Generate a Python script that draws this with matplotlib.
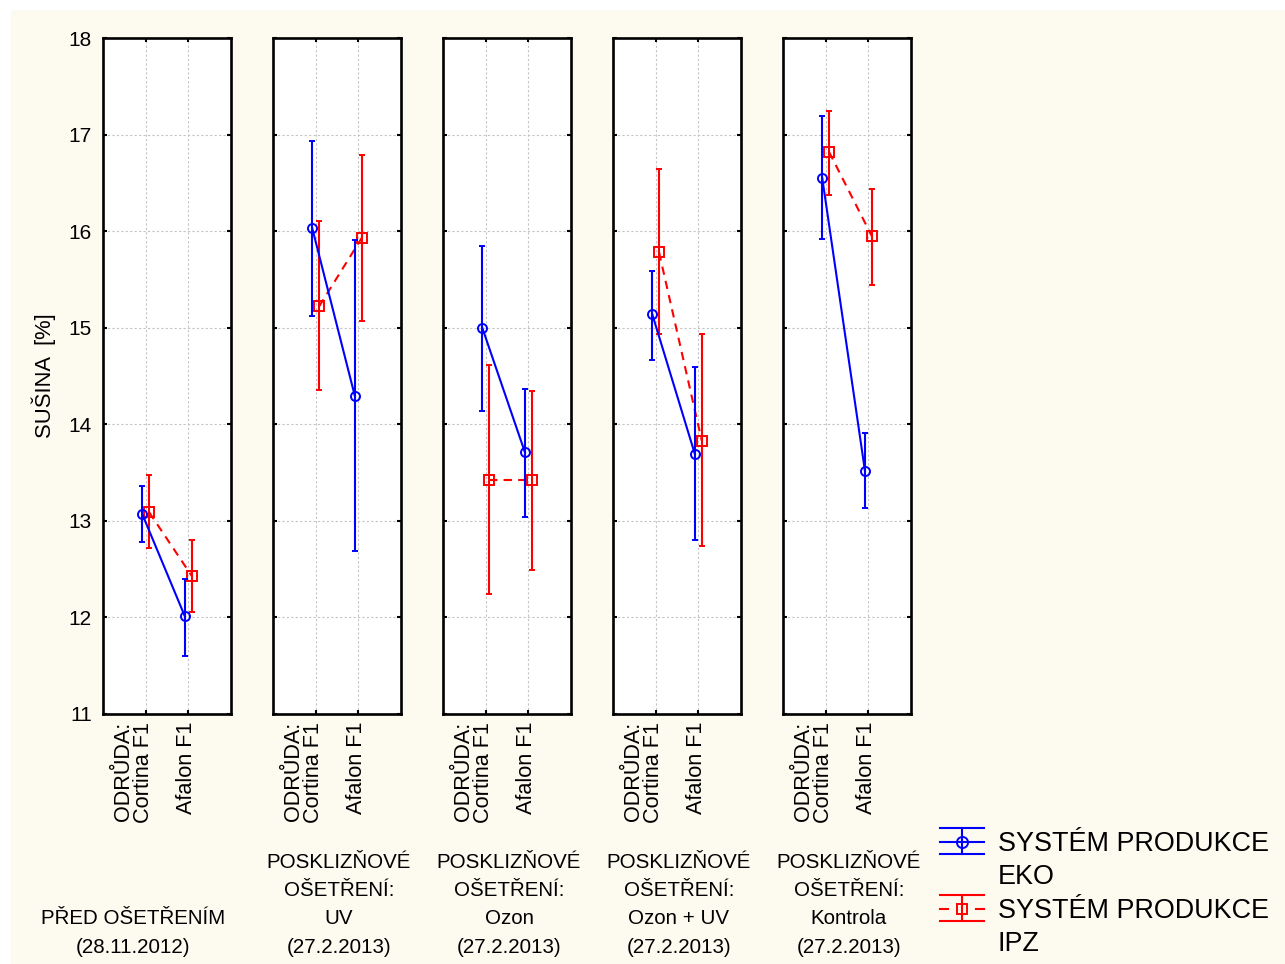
import numpy as np
import matplotlib
matplotlib.use('Agg')
import matplotlib.pyplot as plt
import matplotlib.transforms as mtransforms
from matplotlib.patches import Rectangle

plt.rcParams['font.family'] = ['Liberation Sans', 'DejaVu Sans']

# popisky
treatments = [
    'PŘED OŠETŘENÍM\n(28.11.2012)',
    'POSKLIZŇOVÉ\nOŠETŘENÍ:\nUV\n(27.2.2013)',
    'POSKLIZŇOVÉ\nOŠETŘENÍ:\nOzon\n(27.2.2013)',
    'POSKLIZŇOVÉ\nOŠETŘENÍ:\nOzon + UV\n(27.2.2013)',
    'POSKLIZŇOVÉ\nOŠETŘENÍ:\nKontrola\n(27.2.2013)',
]
varieties = ['ODRŮDA:\nCortina F1', 'Afalon F1']
series_names = ['SYSTÉM PRODUKCE\nEKO', 'SYSTÉM PRODUKCE\nIPZ']
y_label = 'SUŠINA  [%]'
y_ticks = [11, 12, 13, 14, 15, 16, 17, 18]

# hodnoty (průměr, dolní a horní mez)
eko_mean = [[13.07, 12.01], [16.03, 14.29], [15.00, 13.71], [15.14, 13.69], [16.55, 13.52]]
eko_low = [[12.78, 11.60], [15.12, 12.69], [14.14, 13.04], [14.67, 12.80], [15.92, 13.13]]
eko_high = [[13.36, 12.40], [16.93, 15.91], [15.85, 14.37], [15.59, 14.59], [17.19, 13.91]]

ipz_mean = [[13.09, 12.43], [15.22, 15.93], [13.42, 13.42], [15.78, 13.83], [16.82, 15.95]]
ipz_low = [[12.72, 12.06], [14.35, 15.07], [12.24, 12.49], [14.93, 12.74], [16.37, 15.44]]
ipz_high = [[13.48, 12.80], [16.10, 16.79], [14.61, 14.34], [16.64, 14.93], [17.24, 16.44]]

W, H = 1285, 964
fig = plt.figure(figsize=(W / 100, H / 100), dpi=100)
fig.patch.set_facecolor('white')
fig.add_artist(Rectangle((11 / W, 0), 1, 1 - 10 / H, transform=fig.transFigure,
                         facecolor='#FDFAF0', edgecolor='none', zorder=-10))

x = np.arange(1, len(varieties) + 1)
label_dx = [-12, -2]  # posun popisků odrůd v px

for i in range(len(treatments)):
    left = 103 + 170 * i
    ax = fig.add_axes([left / W, 1 - 714 / H, 128 / W, 676 / H])
    ax.set_facecolor('white')

    m = np.array(ipz_mean[i])
    err = [m - np.array(ipz_low[i]), np.array(ipz_high[i]) - m]
    ax.errorbar(x + 0.08, m, yerr=err, color='red', ls=(0, (4, 3)), lw=1.5,
                marker='s', ms=6.5, mfc='none', mec='red', mew=1.4,
                capsize=2, elinewidth=1.5, capthick=1.5, zorder=3)

    m = np.array(eko_mean[i])
    err = [m - np.array(eko_low[i]), np.array(eko_high[i]) - m]
    ax.errorbar(x - 0.08, m, yerr=err, color='blue', ls='-', lw=1.5,
                marker='o', ms=6.5, mfc='none', mec='blue', mew=1.4,
                capsize=2, elinewidth=1.5, capthick=1.5, zorder=4)

    ax.set_xlim(0, len(varieties) + 1)
    ax.set_ylim(y_ticks[0], y_ticks[-1])
    ax.set_xticks(x)
    ax.set_yticks(y_ticks)
    ax.grid(True, color='#C4C4C4', ls=(0, (2, 2)), lw=0.8)
    ax.set_axisbelow(True)
    for s in ax.spines.values():
        s.set_linewidth(1.9)
    ax.tick_params(direction='in', length=3, width=1.5, left=True, right=True,
                   top=True, bottom=True, labelbottom=False, labelsize=15, pad=8)
    if i > 0:
        ax.tick_params(labelleft=False)
    else:
        ax.set_ylabel(y_label, fontsize=15.8)
        ax.yaxis.set_label_coords((56 - 103) / 128, 0.5)

    # popisky odrůd (otočené)
    for xi, lab, dx in zip(x, varieties, label_dx):
        off = mtransforms.ScaledTranslation(dx / 100, -8 / 100, fig.dpi_scale_trans)
        ax.text(xi, 0, lab, transform=ax.get_xaxis_transform() + off,
                rotation=90, ha='center', va='top', ma='right',
                fontsize=15.6, linespacing=0.95)

    # popisek ošetření, každý řádek zvlášť
    cx = left + 64 + 2 if i > 0 else 133
    lines = treatments[i].split('\n')
    for k, line in enumerate(lines[::-1]):
        fig.text(cx / W, 1 - (953 - 28.5 * k) / H, line, ha='center',
                 va='baseline', fontsize=14.8)

# legenda
lax = fig.add_axes([0, 0, 1, 1], facecolor='none')
lax.set_xlim(0, W)
lax.set_ylim(H, 0)
lax.axis('off')

colors = ['blue', 'red']
markers = ['o', 's']
for j, name in enumerate(series_names):
    yc = 842 + 67 * j
    c = colors[j]
    lax.plot([940, 984], [yc - 14, yc - 14], color=c, lw=1.5)
    lax.plot([940, 984], [yc + 12, yc + 12], color=c, lw=1.5)
    lax.plot([962, 962], [yc - 14, yc + 12], color=c, lw=1.5)
    if j == 0:
        lax.plot([940, 984], [yc, yc], color=c, lw=1.5)
    else:
        lax.plot([940, 948], [yc, yc], color=c, lw=1.5)
        lax.plot([976, 984], [yc, yc], color=c, lw=1.5)
    lax.plot([962], [yc], marker=markers[j], ms=7 if j else 8, mfc='none',
             mec=c, mew=1.4)
    for k, line in enumerate(name.split('\n')):
        lax.text(998, yc + 9 + 33 * k, line, ha='left', va='baseline',
                 fontsize=19.4)

fig.savefig('out.png', dpi=100)
